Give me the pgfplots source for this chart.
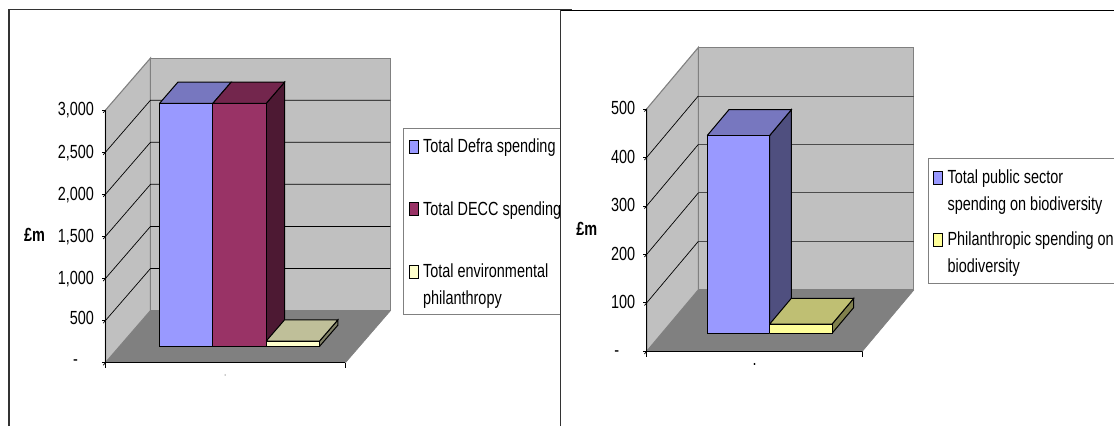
\documentclass[border=0pt]{standalone}
\usepackage{fontspec}
\setmainfont[FakeStretch=0.76]{Liberation Sans}
\usepackage{pgfplots}
\pgfplotsset{compat=1.18}

\definecolor{wall}{HTML}{C0C0C0}
\definecolor{floorc}{HTML}{808080}
\definecolor{blueF}{HTML}{9999FF}
\definecolor{blueT}{HTML}{7777BF}
\definecolor{blueS}{HTML}{4F4F7F}
\definecolor{redF}{HTML}{993366}
\definecolor{redT}{HTML}{73264D}
\definecolor{redS}{HTML}{4D1933}
\definecolor{yelF}{HTML}{FFFFCC}
\definecolor{yelT}{HTML}{BFBF99}
\definecolor{yelS}{HTML}{808066}
\definecolor{yel2F}{HTML}{FFFF99}
\definecolor{yel2T}{HTML}{BFBF73}
\definecolor{yel2S}{HTML}{80804D}

\newcommand{\chartfont}{\fontsize{19}{26.7}\selectfont}
\newcommand{\zerolabel}{\raisebox{-12.5pt}{-}\hspace*{16pt}}

\pgfplotsset{
  chart3d/.style={
    anchor=origin, clip=false,
    axis lines*=left, axis on top,
    xtick=\empty, ytick=\empty,
    tick align=outside, major tick length=3.5pt,
    tick style={black, line width=.7pt},
    axis line style={black, line width=.7pt},
    y axis line style={draw=floorc},
    tick label style={font=\chartfont, inner sep=0pt},
    zlabel style={font=\chartfont\bfseries, rotate=-90, anchor=center},
    legend image code/.code={\draw[##1] (0pt,-.5pt) rectangle (9pt,12.5pt);},
    legend style={font=\chartfont, draw=floorc, line width=.9pt, fill=white,
      anchor=north west, inner xsep=5pt, column sep=2.5pt,
      cells={anchor=base west},
      nodes={inner xsep=2pt, inner ysep=0pt, text depth={}}},
  },
  face/.style={draw=black, line width=1pt, line join=miter, fill=#1},
  plane/.style={forget plot, draw=floorc, line width=1.1pt, fill=#1},
}

\begin{document}
\begin{tikzpicture}[x=1pt,y=1pt]
\useasboundingbox (0,0) rectangle (1114,426);

% left chart
\begin{axis}[chart3d,
  at={(105.5pt,63.4pt)},
  x={(53.33pt,0pt)}, y={(45pt,52pt)}, z={(0pt,0.08417pt)},
  xmin=0, xmax=4.5, ymin=0, ymax=1, zmin=0, zmax=3000,
  ztick={0,500,1000,1500,2000,2500,3000},
  zticklabels={\zerolabel,500,{1,000},{1,500},{2,000},{2,500},{3,000}},
  ticklabel style={xshift=-9pt, yshift=10.5pt},
  zlabel={£m},
  zlabel style={at={(axis cs:-1.33,0,1520)}},
  legend style={at={(1.0445,0.771)}, row sep=35.6pt, inner ysep=6pt},
]
\addplot3[plane=floorc, draw=none] coordinates {(0,0,0) (4.5,0,0) (4.5,1,0) (0,1,0) (0,0,0)};
\addplot3[plane=wall] coordinates {(0,0,0) (0,1,0) (0,1,3000) (0,0,3000) (0,0,0)};
\addplot3[plane=wall] coordinates {(0,1,0) (4.5,1,0) (4.5,1,3000) (0,1,3000) (0,1,0)};
\addplot3[forget plot, black, line width=.7pt] coordinates {(0,0,500) (0,1,500) (4.5,1,500)};
\addplot3[forget plot, black, line width=.7pt] coordinates {(0,0,1000) (0,1,1000) (4.5,1,1000)};
\addplot3[forget plot, black, line width=.7pt] coordinates {(0,0,1500) (0,1,1500) (4.5,1,1500)};
\addplot3[forget plot, black, line width=.7pt] coordinates {(0,0,2000) (0,1,2000) (4.5,1,2000)};
\addplot3[forget plot, black, line width=.7pt] coordinates {(0,0,2500) (0,1,2500) (4.5,1,2500)};
\addplot3[forget plot, black, line width=.7pt] coordinates {(0,0,0) (0,0,-60)};
\addplot3[forget plot, black, line width=.7pt] coordinates {(4.5,0,0) (4.5,0,-60)};
% Total Defra spending
\addplot3[face=blueT, forget plot] coordinates {(.75,.31,2887) (1.75,.31,2887) (1.75,.72,2887) (.75,.72,2887) (.75,.31,2887)};
\addplot3[face=blueF] coordinates {(.75,.31,0) (1.75,.31,0) (1.75,.31,2887) (.75,.31,2887) (.75,.31,0)};
\addlegendentry{\begin{tabular}[t]{@{}l@{}}Total Defra spending\hspace*{30pt}\end{tabular}}
% Total DECC spending
\addplot3[face=redS, forget plot] coordinates {(2.75,.31,0) (2.75,.72,0) (2.75,.72,2887) (2.75,.31,2887) (2.75,.31,0)};
\addplot3[face=redT, forget plot] coordinates {(1.75,.31,2887) (2.75,.31,2887) (2.75,.72,2887) (1.75,.72,2887) (1.75,.31,2887)};
\addplot3[face=redF] coordinates {(1.75,.31,0) (2.75,.31,0) (2.75,.31,2887) (1.75,.31,2887) (1.75,.31,0)};
\addlegendentry{\begin{tabular}[t]{@{}l@{}}Total DECC spending\end{tabular}}
% Total environmental philanthropy
\addplot3[face=yelS, forget plot] coordinates {(3.75,.31,0) (3.75,.72,0) (3.75,.72,63) (3.75,.31,63) (3.75,.31,0)};
\addplot3[face=yelT, forget plot] coordinates {(2.75,.31,63) (3.75,.31,63) (3.75,.72,63) (2.75,.72,63) (2.75,.31,63)};
\addplot3[face=yelF] coordinates {(2.75,.31,0) (3.75,.31,0) (3.75,.31,63) (2.75,.31,63) (2.75,.31,0)};
\addlegendentry{\begin{tabular}[t]{@{}l@{}}Total environmental\\philanthropy\\[-3.6pt]\end{tabular}}
\node[text=black!20, font=\chartfont, anchor=base] at (axis cs:2.25,0,-170) {.};
\end{axis}

% right panel hides what runs past the left chart
\fill[white] (561,0) rectangle (1114,426);
\draw[black!80, line width=1.3pt] (9,0) -- (9,416.3) -- (572,416.3);
\draw[black!80, line width=1.1pt] (560.7,0) -- (560.7,416);
\draw[black, line width=1pt] (560.7,415.8) -- (1114,415.8);

% right chart
\begin{axis}[chart3d,
  at={(646.7pt,74.7pt)},
  x={(62.4pt,0pt)}, y={(51.6pt,61.4pt)}, z={(0pt,0.4848pt)},
  xmin=0, xmax=3.455, ymin=0, ymax=1, zmin=0, zmax=500,
  ztick={0,100,200,300,400,500},
  zticklabels={\zerolabel,100,200,300,400,500},
  ticklabel style={xshift=-9pt, yshift=9pt},
  zlabel={£m},
  zlabel style={at={(axis cs:-.96,0,252)}},
  legend style={at={(1.0513,0.636)}, row sep=8.3pt, inner ysep=6.6pt},
]
\addplot3[plane=floorc, draw=none] coordinates {(0,0,0) (3.455,0,0) (3.455,1,0) (0,1,0) (0,0,0)};
\addplot3[plane=wall] coordinates {(0,0,0) (0,1,0) (0,1,500) (0,0,500) (0,0,0)};
\addplot3[plane=wall] coordinates {(0,1,0) (3.455,1,0) (3.455,1,500) (0,1,500) (0,1,0)};
\addplot3[forget plot, black!70, line width=.9pt] coordinates {(0,1,100) (3.455,1,100)};
\addplot3[forget plot, black!70, line width=.9pt] coordinates {(0,1,200) (3.455,1,200)};
\addplot3[forget plot, black!70, line width=.9pt] coordinates {(0,1,300) (3.455,1,300)};
\addplot3[forget plot, black!70, line width=.9pt] coordinates {(0,1,400) (3.455,1,400)};
\addplot3[forget plot, black, line width=.7pt] coordinates {(0,0,100) (0,1,100)};
\addplot3[forget plot, black, line width=.7pt] coordinates {(0,0,200) (0,1,200)};
\addplot3[forget plot, black, line width=.7pt] coordinates {(0,0,300) (0,1,300)};
\addplot3[forget plot, black, line width=.7pt] coordinates {(0,0,400) (0,1,400)};
\addplot3[forget plot, black, line width=.7pt] coordinates {(0,0,0) (0,0,-11)};
\addplot3[forget plot, black, line width=.7pt] coordinates {(3.455,0,0) (3.455,0,-11)};
% Total public sector spending on biodiversity
\addplot3[face=blueS, forget plot] coordinates {(1.728,.293,0) (1.728,.713,0) (1.728,.713,408) (1.728,.293,408) (1.728,.293,0)};
\addplot3[face=blueT, forget plot] coordinates {(.728,.293,408) (1.728,.293,408) (1.728,.713,408) (.728,.713,408) (.728,.293,408)};
\addplot3[face=blueF] coordinates {(.728,.293,0) (1.728,.293,0) (1.728,.293,408) (.728,.293,408) (.728,.293,0)};
\addlegendentry{\begin{tabular}[t]{@{}l@{}}Total public sector\\spending on biodiversity\end{tabular}}
% Philanthropic spending on biodiversity
\addplot3[face=yel2S, forget plot] coordinates {(2.728,.293,0) (2.728,.713,0) (2.728,.713,19) (2.728,.293,19) (2.728,.293,0)};
\addplot3[face=yel2T, forget plot] coordinates {(1.728,.293,19) (2.728,.293,19) (2.728,.713,19) (1.728,.713,19) (1.728,.293,19)};
\addplot3[face=yel2F] coordinates {(1.728,.293,0) (2.728,.293,0) (2.728,.293,19) (1.728,.293,19) (1.728,.293,0)};
\addlegendentry{\begin{tabular}[t]{@{}l@{}}Philanthropic spending on\hspace*{20pt}\\biodiversity\\[-3.6pt]\end{tabular}}
\node[text=black, font=\chartfont, anchor=base] at (axis cs:1.73,0,-30) {.};
\end{axis}
\end{tikzpicture}
\end{document}
